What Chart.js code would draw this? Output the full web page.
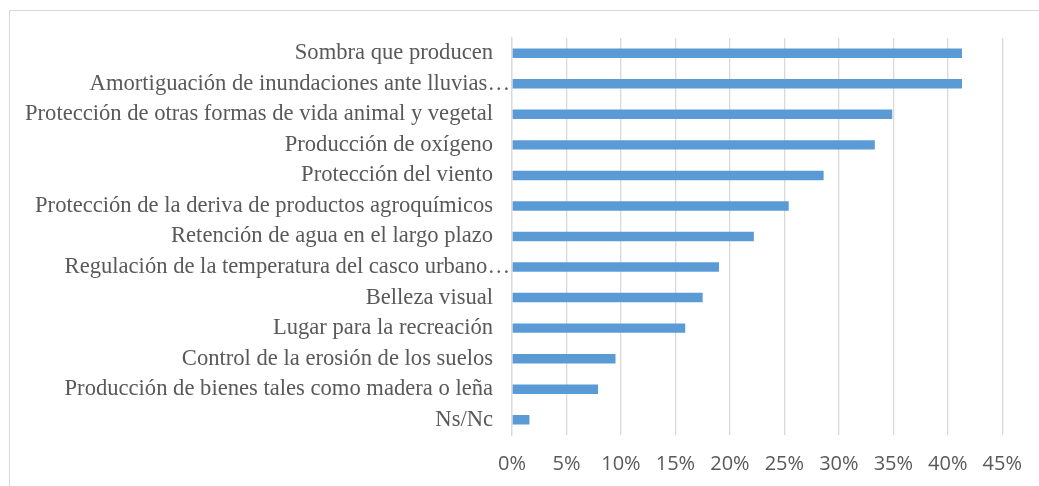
<!DOCTYPE html>
<html>
<head>
<meta charset="utf-8">
<script src="https://cdn.jsdelivr.net/npm/chart.js@4"></script>
<style>
  html, body { margin: 0; padding: 0; background: #fff; }
  #wrap { position: relative; width: 1039px; height: 486px; overflow: hidden; }
  #frame { position: absolute; left: 9px; top: 10px; width: 1100px; height: 600px;
           border-left: 1px solid #d9d9d9; border-top: 1px solid #d9d9d9; }
  #chart { position: absolute; left: 0; top: 0; }
</style>
</head>
<body>
<div id="wrap">
  <div id="frame"></div>
  <canvas id="chart" width="1039" height="486"></canvas>
</div>
<script>
// datos del gráfico
const categorias = [
  'Sombra que producen',
  'Amortiguación de inundaciones ante lluvias…',
  'Protección de otras formas de vida animal y vegetal',
  'Producción de oxígeno',
  'Protección del viento',
  'Protección de la deriva de productos agroquímicos',
  'Retención de agua en el largo plazo',
  'Regulación de la temperatura del casco urbano…',
  'Belleza visual',
  'Lugar para la recreación',
  'Control de la erosión de los suelos',
  'Producción de bienes tales como madera o leña',
  'Ns/Nc'
];
const porcentajes = [41.3, 41.3, 34.9, 33.3, 28.6, 25.4, 22.2, 19.0, 17.5, 15.9, 9.5, 7.9, 1.6];
const ticksEjeX = [0, 5, 10, 15, 20, 25, 30, 35, 40, 45];

new Chart(document.getElementById('chart'), {
  type: 'bar',
  data: {
    labels: categorias,
    datasets: [{
      data: porcentajes,
      backgroundColor: '#5B9BD5',
      borderWidth: 0,
      barPercentage: 0.31,
      categoryPercentage: 1
    }]
  },
  options: {
    indexAxis: 'y',
    responsive: false,
    animation: false,
    layout: { padding: { top: 38, right: 36, left: 0, bottom: 0 } },
    plugins: { legend: { display: false }, tooltip: { enabled: false } },
    scales: {
      x: {
        min: ticksEjeX[0],
        max: ticksEjeX[ticksEjeX.length - 1],
        afterBuildTicks: (scale) => { scale.ticks = ticksEjeX.map(v => ({ value: v })); },
        grid: { color: '#d9d9d9', lineWidth: 1.3, drawTicks: false },
        border: { display: false },
        ticks: {
          padding: 17,
          color: '#595959',
          font: { family: 'Open Sans', size: 20 },
          callback: (v) => v + '%'
        },
        afterFit: (scale) => { scale.height = 51; }
      },
      y: {
        grid: { display: false, drawTicks: false },
        border: { display: true, color: '#d9d9d9', width: 1.3 },
        ticks: {
          padding: 2,
          autoSkip: false,
          color: '#595959',
          font: { family: 'Liberation Serif', size: 22.6 },
          // las etiquetas completas llevan separación extra, las truncadas no
          callback: function (v, i) {
            const t = categorias[i];
            return t.endsWith('…') ? t : t + '   ';
          }
        },
        afterFit: (scale) => { scale.width = 512; }
      }
    }
  }
});
</script>
</body>
</html>
